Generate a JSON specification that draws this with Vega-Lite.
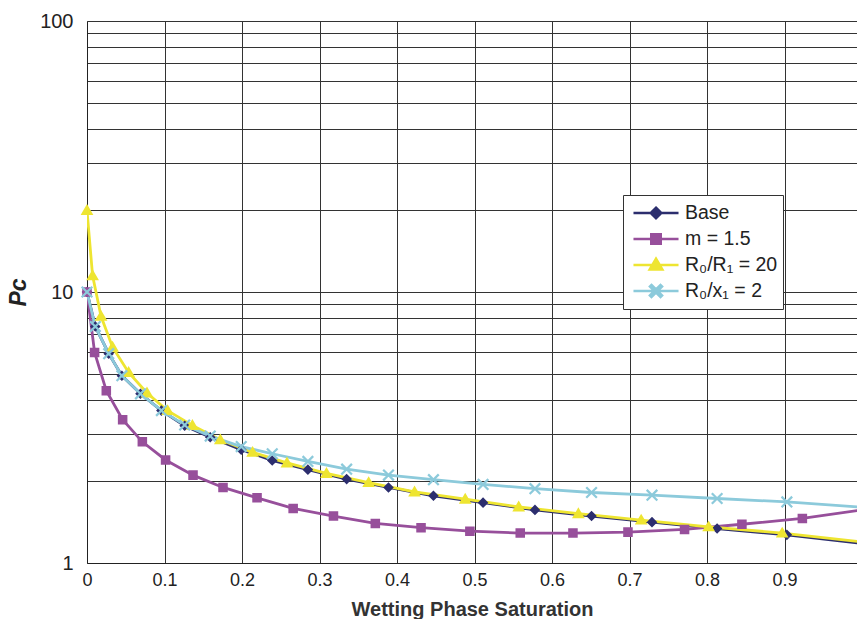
{
  "$schema": "https://vega.github.io/schema/vega-lite/v6.json",
  "width": 770,
  "height": 542,
  "autosize": {"type": "none"},
  "padding": {"left": 87, "top": 21, "right": 0, "bottom": 56},
  "background": "white",
  "config": {
    "view": {"stroke": null},
    "font": "Liberation Sans",
    "axis": {"gridColor": "#333333", "gridWidth": 1, "gridOpacity": 1, "domainColor": "#222222", "ticks": false}
  },
  "data": {
    "values": [
      {"series": "Base", "Sw": 0, "Pc": 10},
      {"series": "Base", "Sw": 0.0107, "Pc": 7.46},
      {"series": "Base", "Sw": 0.028, "Pc": 5.92},
      {"series": "Base", "Sw": 0.045, "Pc": 4.91},
      {"series": "Base", "Sw": 0.069, "Pc": 4.21},
      {"series": "Base", "Sw": 0.096, "Pc": 3.65},
      {"series": "Base", "Sw": 0.126, "Pc": 3.21},
      {"series": "Base", "Sw": 0.159, "Pc": 2.91},
      {"series": "Base", "Sw": 0.199, "Pc": 2.62},
      {"series": "Base", "Sw": 0.239, "Pc": 2.39},
      {"series": "Base", "Sw": 0.285, "Pc": 2.21},
      {"series": "Base", "Sw": 0.335, "Pc": 2.04},
      {"series": "Base", "Sw": 0.389, "Pc": 1.9},
      {"series": "Base", "Sw": 0.447, "Pc": 1.77},
      {"series": "Base", "Sw": 0.511, "Pc": 1.67},
      {"series": "Base", "Sw": 0.578, "Pc": 1.57},
      {"series": "Base", "Sw": 0.651, "Pc": 1.49},
      {"series": "Base", "Sw": 0.729, "Pc": 1.415},
      {"series": "Base", "Sw": 0.813, "Pc": 1.34},
      {"series": "Base", "Sw": 0.903, "Pc": 1.27},
      {"series": "Base", "Sw": 1.0, "Pc": 1.18},

      {"series": "m = 1.5", "Sw": 0, "Pc": 10},
      {"series": "m = 1.5", "Sw": 0.0098, "Pc": 5.98},
      {"series": "m = 1.5", "Sw": 0.0249, "Pc": 4.32},
      {"series": "m = 1.5", "Sw": 0.046, "Pc": 3.38},
      {"series": "m = 1.5", "Sw": 0.0714, "Pc": 2.8},
      {"series": "m = 1.5", "Sw": 0.1014, "Pc": 2.4},
      {"series": "m = 1.5", "Sw": 0.1368, "Pc": 2.11},
      {"series": "m = 1.5", "Sw": 0.1755, "Pc": 1.9},
      {"series": "m = 1.5", "Sw": 0.2194, "Pc": 1.74},
      {"series": "m = 1.5", "Sw": 0.266, "Pc": 1.59},
      {"series": "m = 1.5", "Sw": 0.318, "Pc": 1.49},
      {"series": "m = 1.5", "Sw": 0.372, "Pc": 1.4},
      {"series": "m = 1.5", "Sw": 0.431, "Pc": 1.35},
      {"series": "m = 1.5", "Sw": 0.494, "Pc": 1.31},
      {"series": "m = 1.5", "Sw": 0.559, "Pc": 1.29},
      {"series": "m = 1.5", "Sw": 0.627, "Pc": 1.29},
      {"series": "m = 1.5", "Sw": 0.698, "Pc": 1.3},
      {"series": "m = 1.5", "Sw": 0.771, "Pc": 1.33},
      {"series": "m = 1.5", "Sw": 0.845, "Pc": 1.39},
      {"series": "m = 1.5", "Sw": 0.923, "Pc": 1.46},
      {"series": "m = 1.5", "Sw": 1.0, "Pc": 1.57},

      {"series": "R₀/R₁ = 20", "Sw": 0, "Pc": 20},
      {"series": "R₀/R₁ = 20", "Sw": 0.0072, "Pc": 11.49},
      {"series": "R₀/R₁ = 20", "Sw": 0.0181, "Pc": 8.13},
      {"series": "R₀/R₁ = 20", "Sw": 0.033, "Pc": 6.26},
      {"series": "R₀/R₁ = 20", "Sw": 0.0537, "Pc": 5.05},
      {"series": "R₀/R₁ = 20", "Sw": 0.0774, "Pc": 4.24},
      {"series": "R₀/R₁ = 20", "Sw": 0.104, "Pc": 3.65},
      {"series": "R₀/R₁ = 20", "Sw": 0.136, "Pc": 3.22},
      {"series": "R₀/R₁ = 20", "Sw": 0.172, "Pc": 2.85},
      {"series": "R₀/R₁ = 20", "Sw": 0.2137, "Pc": 2.56},
      {"series": "R₀/R₁ = 20", "Sw": 0.258, "Pc": 2.34},
      {"series": "R₀/R₁ = 20", "Sw": 0.309, "Pc": 2.14},
      {"series": "R₀/R₁ = 20", "Sw": 0.3634, "Pc": 1.98},
      {"series": "R₀/R₁ = 20", "Sw": 0.4226, "Pc": 1.83},
      {"series": "R₀/R₁ = 20", "Sw": 0.488, "Pc": 1.72},
      {"series": "R₀/R₁ = 20", "Sw": 0.557, "Pc": 1.61},
      {"series": "R₀/R₁ = 20", "Sw": 0.634, "Pc": 1.52},
      {"series": "R₀/R₁ = 20", "Sw": 0.715, "Pc": 1.44},
      {"series": "R₀/R₁ = 20", "Sw": 0.802, "Pc": 1.36},
      {"series": "R₀/R₁ = 20", "Sw": 0.897, "Pc": 1.29},
      {"series": "R₀/R₁ = 20", "Sw": 1.0, "Pc": 1.195},

      {"series": "R₀/x₁ = 2", "Sw": 0, "Pc": 10},
      {"series": "R₀/x₁ = 2", "Sw": 0.0107, "Pc": 7.46},
      {"series": "R₀/x₁ = 2", "Sw": 0.028, "Pc": 5.92},
      {"series": "R₀/x₁ = 2", "Sw": 0.045, "Pc": 4.91},
      {"series": "R₀/x₁ = 2", "Sw": 0.069, "Pc": 4.21},
      {"series": "R₀/x₁ = 2", "Sw": 0.096, "Pc": 3.65},
      {"series": "R₀/x₁ = 2", "Sw": 0.126, "Pc": 3.23},
      {"series": "R₀/x₁ = 2", "Sw": 0.159, "Pc": 2.94},
      {"series": "R₀/x₁ = 2", "Sw": 0.199, "Pc": 2.69},
      {"series": "R₀/x₁ = 2", "Sw": 0.239, "Pc": 2.53},
      {"series": "R₀/x₁ = 2", "Sw": 0.285, "Pc": 2.37},
      {"series": "R₀/x₁ = 2", "Sw": 0.335, "Pc": 2.22},
      {"series": "R₀/x₁ = 2", "Sw": 0.389, "Pc": 2.11},
      {"series": "R₀/x₁ = 2", "Sw": 0.447, "Pc": 2.03},
      {"series": "R₀/x₁ = 2", "Sw": 0.511, "Pc": 1.95},
      {"series": "R₀/x₁ = 2", "Sw": 0.578, "Pc": 1.88},
      {"series": "R₀/x₁ = 2", "Sw": 0.651, "Pc": 1.82},
      {"series": "R₀/x₁ = 2", "Sw": 0.729, "Pc": 1.78},
      {"series": "R₀/x₁ = 2", "Sw": 0.813, "Pc": 1.73},
      {"series": "R₀/x₁ = 2", "Sw": 0.903, "Pc": 1.68},
      {"series": "R₀/x₁ = 2", "Sw": 1.0, "Pc": 1.605}
    ]
  },
  "encoding": {
    "x": {
      "field": "Sw",
      "type": "quantitative",
      "scale": {"domain": [0, 0.9935], "nice": false, "zero": false},
      "axis": {
        "values": [0, 0.1, 0.2, 0.3, 0.4, 0.5, 0.6, 0.7, 0.8, 0.9],
        "format": "~g",
        "labelFontSize": 18,
        "labelColor": "#222222",
        "labelPadding": 8,
        "labelFlush": false,
        "title": "Wetting Phase Saturation",
        "titleFontSize": 20,
        "titleFontWeight": "bold",
        "titleColor": "#333333",
        "titlePadding": 10
      }
    },
    "y": {
      "field": "Pc",
      "type": "quantitative",
      "scale": {"type": "log", "domain": [1, 100], "nice": false},
      "axis": {
        "values": [1, 2, 3, 4, 5, 6, 7, 8, 9, 10, 20, 30, 40, 50, 60, 70, 80, 90, 100],
        "labelExpr": "datum.value == 1 || datum.value == 10 || datum.value == 100 ? format(datum.value, 'd') : ''",
        "labelFontSize": 20,
        "labelColor": "#222222",
        "labelPadding": 14,
        "labelFlush": false,
        "title": "Pᴄ",
        "titleFontSize": 23,
        "titleFontWeight": "bold",
        "titleFontStyle": "italic",
        "titleColor": "#222222",
        "titlePadding": 9
      }
    },
    "color": {
      "field": "series",
      "type": "nominal",
      "scale": {
        "domain": ["Base", "m = 1.5", "R₀/R₁ = 20", "R₀/x₁ = 2"],
        "range": ["#2c2e6e", "#974f9b", "#eee531", "#8ccadb"]
      },
      "legend": {
        "title": null,
        "orient": "none",
        "legendX": 536,
        "legendY": 174,
        "padding": 5,
        "strokeColor": "#333333",
        "fillColor": "white",
        "labelFontSize": 19.5,
        "labelColor": "#222222",
        "labelOffset": 1,
        "symbolSize": 2809,
        "symbolStrokeWidth": 2.5,
        "symbolOpacity": 1,
        "symbolFillColor": "white",
        "symbolStrokeColor": "black",
        "clipHeight": 26,
        "rowPadding": 0
      }
    }
  },
  "layer": [
    {
      "mark": {"type": "line", "strokeWidth": 2.8, "clip": true}
    },
    {
      "transform": [{"filter": "datum.Sw < 1"}],
      "mark": {"type": "point", "filled": true, "size": 2809, "opacity": 1},
      "encoding": {
        "shape": {
          "field": "series",
          "type": "nominal",
          "scale": {
            "domain": ["Base", "m = 1.5", "R₀/R₁ = 20", "R₀/x₁ = 2"],
            "range": [
              "M-0.85,0H0.85M0,-0.2L0.2,0L0,0.2L-0.2,0Z",
              "M-0.85,0H0.85M-0.18,-0.18H0.18V0.18H-0.18Z",
              "M-0.85,0H0.85M0,-0.24L0.24,0.17L-0.24,0.17Z",
              "M-0.85,0H0.85M-0.17,-0.23L0.23,0.17L0.17,0.23L-0.23,-0.17ZM-0.23,0.17L0.17,-0.23L0.23,-0.17L-0.17,0.23Z"
            ]
          },
          "legend": {
            "title": null,
            "orient": "none",
            "legendX": 536,
            "legendY": 174,
            "padding": 5,
            "strokeColor": "#333333",
            "fillColor": "white",
            "labelFontSize": 19.5,
            "labelColor": "#222222",
            "labelOffset": 1,
            "symbolSize": 2809,
            "symbolStrokeWidth": 2.5,
            "symbolOpacity": 1,
            "symbolFillColor": "white",
            "symbolStrokeColor": "black",
            "clipHeight": 26,
            "rowPadding": 0
          }
        }
      }
    }
  ]
}
